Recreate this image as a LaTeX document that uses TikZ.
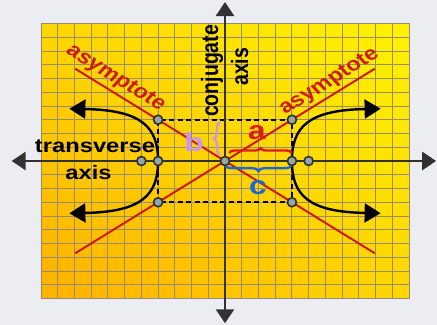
\documentclass[tikz,border=0pt]{standalone}
\usepackage{fontspec}
\setmainfont{Liberation Sans}
\usetikzlibrary{arrows.meta,decorations.pathreplacing,shadings}
\definecolor{bgc}{RGB}{236,237,242}
\definecolor{gTL}{RGB}{255,214,0}
\definecolor{gTR}{RGB}{255,242,0}
\definecolor{gBL}{RGB}{255,176,0}
\definecolor{gBR}{RGB}{255,214,0}
\definecolor{gridc}{RGB}{150,140,115}
\definecolor{axisc}{RGB}{50,50,50}
\definecolor{asymc}{RGB}{205,28,15}
\definecolor{acol}{RGB}{225,25,25}
\definecolor{ccol}{RGB}{28,105,210}
\definecolor{bcol}{RGB}{200,150,240}
\definecolor{dotfill}{RGB}{150,165,165}
\definecolor{dotline}{RGB}{45,50,50}
\tikzset{
  axtip/.tip={Triangle[length=14pt,width=18pt]},
  htip/.tip={Triangle[length=16pt,width=19pt]},
  hdot/.style={circle, inner sep=0pt, minimum size=9pt, fill=dotfill, draw=dotline, line width=1.6pt},
  lbl/.style={font=\fontsize{19.5}{20}\selectfont\bfseries, inner sep=0pt, transform shape},
  letter/.style={font=\fontsize{26}{28}\selectfont\bfseries, inner sep=0pt, transform shape},
  axisln/.style={draw=axisc, line width=2.8pt},
  asym/.style={draw=asymc, line width=2pt},
  dashbox/.style={draw=black, line width=2pt, dash pattern=on 5pt off 3.5pt},
  branch/.style={draw=black, line width=2.4pt},
  bracestyle/.style={decorate, line width=2.4pt},
}
\begin{document}
\begin{tikzpicture}[x=13.75pt,y=13.75pt]
\begin{scope}[xscale=1.2167]
\fill[bgc] (-13.449,-11.927) rectangle (12.672,11.709);
\useasboundingbox (-13.449,-11.927) rectangle (12.672,11.709);
% grid
\shade[upper left=gTL, upper right=gTR, lower left=gBL, lower right=gBR] (-11,-10) rectangle (11,10);
\draw[gridc, line width=0.9pt, step={(1,1)}] (-11,-10) grid (11,10);
% asymptotes
\coordinate (p1) at (-8.95,-6.71);
\coordinate (p2) at (8.95,6.71);
\coordinate (p3) at (-8.95,6.71);
\coordinate (p4) at (8.95,-6.71);
\draw[asym] (p1) -- (p2);
\draw[asym] (p3) -- (p4);
% dashed box
\coordinate (r1) at (-4,-3);
\coordinate (r2) at (4,3);
\draw[dashbox] (r1) rectangle (r2);
% hyperbola
\coordinate (vR) at (4,0);
\coordinate (vL) at (-4,0);
\coordinate (hR1) at (9.3,3.8);
\coordinate (hR2) at (9.3,-3.8);
\coordinate (hL1) at (-9.3,3.8);
\coordinate (hL2) at (-9.3,-3.8);
\draw[branch, htip-htip] (hR1) .. controls (5,3.7) and (4,2.5) .. (vR) .. controls (4,-2.5) and (5,-3.7) .. (hR2);
\draw[branch, htip-htip] (hL1) .. controls (-5,3.7) and (-4,2.5) .. (vL) .. controls (-4,-2.5) and (-5,-3.7) .. (hL2);
% axes
\coordinate (xl) at (-12.75,0);
\coordinate (xr) at (12.62,0);
\coordinate (yt) at (0,11.56);
\coordinate (yb) at (0,-11.8);
\draw[axisln, axtip-axtip] (xl) -- (xr);
\draw[axisln, axtip-axtip] (yb) -- (yt);
% braces
\coordinate (bb1) at (-0.3,0.4);
\coordinate (bb2) at (-0.3,2.85);
\draw[bracestyle, bcol, decoration={brace, amplitude=6pt}] (bb1) -- (bb2);
\coordinate (ab1) at (0.25,0.58);
\coordinate (ab2) at (4,0.58);
\draw[bracestyle, acol, decoration={brace, amplitude=5pt}] (ab1) -- (ab2);
\coordinate (cb1) at (4,-0.3);
\coordinate (cb2) at (0,-0.3);
\draw[bracestyle, ccol, decoration={brace, amplitude=6pt}] (cb1) -- (cb2);
% dots
\node[hdot] (O) at (0,0) {};
\node[hdot] (V1) at (vR) {};
\node[hdot] (V2) at (vL) {};
\node[hdot] (F1) at (5,0) {};
\node[hdot] (F2) at (-5,0) {};
\node[hdot] (C1) at (4,3) {};
\node[hdot] (C2) at (-4,3) {};
\node[hdot] (C3) at (4,-3) {};
\node[hdot] (C4) at (-4,-3) {};
% labels
\node[lbl, text=asymc, rotate=-36.87] (tA1) at (-6.55,6.0) {asymptote};
\node[lbl, text=asymc, rotate=36.87] (tA2) at (6.25,5.75) {asymptote};
\node[lbl, rotate=90] (tC1) at (-0.78,6.55) {conjugate};
\node[lbl, rotate=90] (tC2) at (0.88,6.85) {axis};
\node[lbl] (tT1) at (-7.77,1.04) {transverse};
\node[lbl] (tT2) at (-8.16,-0.87) {axis};
\node[letter, text=bcol] (lb) at (-1.85,1.4) {b};
\node[letter, text=acol] (la) at (1.91,2.04) {a};
\node[letter, text=ccol] (lc) at (1.97,-1.96) {c};
\end{scope}
\end{tikzpicture}
\end{document}
